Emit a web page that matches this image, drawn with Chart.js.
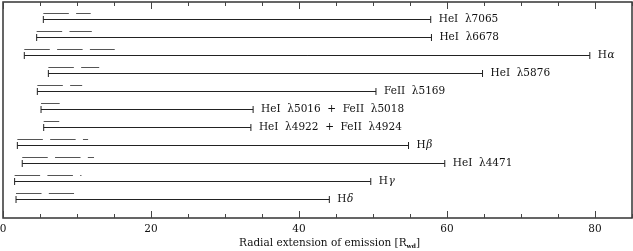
<!DOCTYPE html>
<html><head><meta charset="utf-8">
<script src="https://cdn.jsdelivr.net/npm/chart.js@4/dist/chart.umd.min.js"></script>
<style>html,body{margin:0;padding:0;background:#fff}canvas{display:block}</style>
</head><body>
<canvas id="c" width="633" height="251"></canvas>
<script>
const lineLabels = ['HeI  λ7065','HeI  λ6678','Hα','HeI  λ5876','FeII  λ5169','HeI  λ5016  +  FeII  λ5018','HeI  λ4922  +  FeII  λ4924','Hβ','HeI  λ4471','Hγ','Hδ'];
const startVals = [5.45,4.55,2.88,6.13,4.64,5.14,5.5,1.94,2.6,1.57,1.76];
const endVals = [57.8,57.9,79.3,64.8,50.4,33.8,33.5,54.8,59.7,49.7,44.1];
const dashEndVals = [11.85,12.0,15.1,13.0,10.7,7.66,7.6,11.5,12.3,10.6,9.6];
const rowVals = [11,10,9,8,7,6,5,4,3,2,1];
const dashOffset = 1/3;
const xTickLabels = [0,20,40,60,80];

const FONT = '"DejaVu Serif", serif';
const FS = 10.5;
const datasets = [];
lineLabels.forEach((lab,i)=>{
  datasets.push({
    data:[{x:startVals[i],y:rowVals[i]},{x:endVals[i],y:rowVals[i]}],
    borderColor:'#222',borderWidth:1,
    pointStyle:'line',pointRotation:90,pointRadius:3.5,pointBorderColor:'#222',pointBorderWidth:1,pointBackgroundColor:'#222',
    label:lab
  });
  datasets.push({
    data:[{x:startVals[i],y:rowVals[i]+dashOffset},{x:dashEndVals[i],y:rowVals[i]+dashOffset}],
    borderColor:'#555',borderWidth:1,borderDash:[25.5,7.3],pointRadius:0,label:lab+' ext'
  });
});

const deco = {
  id:'deco',
  afterDatasetsDraw(chart){
    const ctx=chart.ctx, a=chart.chartArea, xs=chart.scales.x, ys=chart.scales.y;
    ctx.save();
    ctx.strokeStyle='#333';ctx.lineWidth=1.5;
    ctx.strokeRect(a.left,a.top,a.right-a.left,a.bottom-a.top);
    ctx.lineWidth=1;ctx.strokeStyle='#444';
    for(let v=0;v<=85;v+=5){
      const px=Math.round(xs.getPixelForValue(v))+0.5;
      const len = v%20===0?7:4;
      ctx.beginPath();
      ctx.moveTo(px,a.bottom);ctx.lineTo(px,a.bottom-len);
      ctx.moveTo(px,a.top);ctx.lineTo(px,a.top+len);
      ctx.stroke();
    }
    ctx.fillStyle='#111';ctx.textBaseline='middle';ctx.textAlign='left';
    lineLabels.forEach((lab,i)=>{
      const x=xs.getPixelForValue(endVals[i])+8, y=ys.getPixelForValue(rowVals[i]);
      if(lab.length===2 && lab[0]==='H'){
        ctx.font=FS+'px '+FONT;ctx.fillText('H',x,y);
        const w=ctx.measureText('H').width;
        ctx.font='italic '+FS+'px '+FONT;ctx.fillText(lab[1],x+w+0.5,y);
      } else {
        ctx.font=FS+'px '+FONT;ctx.fillText(lab,x,y);
      }
    });
    const parts=[['Radial extension of emission [R',FS+'px',0],['wd','bold 6px',2],[']',FS+'px',0]];
    let tw=0;
    parts.forEach(p=>{ctx.font=p[1]+' '+FONT;tw+=ctx.measureText(p[0]).width;});
    let tx=(a.left+a.right)/2-tw/2+12;const ty=246;
    ctx.textBaseline='alphabetic';
    parts.forEach(p=>{ctx.font=p[1]+' '+FONT;ctx.fillText(p[0],tx,ty+p[2]);tx+=ctx.measureText(p[0]).width;});
    ctx.restore();
  }
};

new Chart(document.getElementById('c'),{
  type:'line',
  data:{datasets},
  options:{
    responsive:false,animation:false,
    layout:{autoPadding:false,padding:{left:3,right:1,top:2,bottom:0}},
    plugins:{legend:{display:false},tooltip:{enabled:false}},
    scales:{
      x:{type:'linear',min:0,max:85,
        grid:{display:false,drawTicks:false},border:{display:false},
        afterBuildTicks(s){s.ticks=xTickLabels.map(v=>({value:v}));},
        afterFit(s){s.height=33;s.paddingLeft=0;s.paddingRight=0;},
        ticks:{autoSkip:false,maxRotation:0,padding:5,color:'#111',font:{family:FONT,size:FS},callback:v=>String(v)}
      },
      y:{type:'linear',min:-1/36,max:12-1/36,display:false}
    }
  },
  plugins:[deco]
});
</script>
</body></html>
